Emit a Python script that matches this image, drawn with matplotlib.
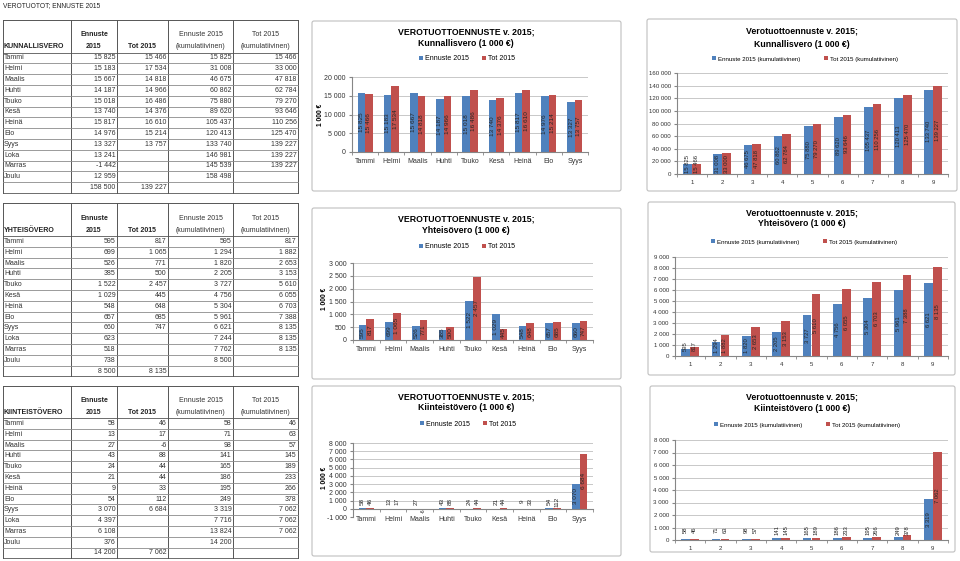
import matplotlib
matplotlib.use("Agg")
import matplotlib.pyplot as plt
from matplotlib.patches import FancyBboxPatch
from matplotlib.ticker import FuncFormatter, FixedLocator

plt.rcParams['font.family'] = ['Liberation Sans', 'DejaVu Sans']

months = ['Tammi', 'Helmi', 'Maalis', 'Huhti', 'Touko', 'Kesä', 'Heinä', 'Elo',
          'Syys', 'Loka', 'Marras', 'Joulu']
kum_labels = ['1', '2', '3', '4', '5', '6', '7', '8', '9']

# kunnallisvero
kunn_ennuste = [15825, 15183, 15667, 14187, 15018, 13740, 15817, 14976, 13327, 13241, -1442, 12959]
kunn_tot = [15466, 17534, 14818, 14966, 16486, 14376, 16610, 15214, 13757]
kunn_ennuste_kum = [15825, 31008, 46675, 60862, 75880, 89620, 105437, 120413, 133740, 146981, 145539, 158498]
kunn_tot_kum = [15466, 33000, 47818, 62784, 79270, 93646, 110256, 125470, 139227, 139227, 139227]
kunn_sum = [158500, 139227]

# yhteisovero
yht_ennuste = [595, 699, 526, 385, 1522, 1029, 548, 657, 660, 623, 518, 738]
yht_tot = [817, 1065, 771, 500, 2457, 445, 648, 685, 747]
yht_ennuste_kum = [595, 1294, 1820, 2205, 3727, 4756, 5304, 5961, 6621, 7244, 7762, 8500]
yht_tot_kum = [817, 1882, 2653, 3153, 5610, 6055, 6703, 7388, 8135, 8135, 8135]
yht_sum = [8500, 8135]

# kiinteistovero
kiint_ennuste = [58, 13, 27, 43, 24, 21, 9, 54, 3070, 4397, 6108, 376]
kiint_tot = [46, 17, -6, 88, 44, 44, 33, 112, 6684]
kiint_ennuste_kum = [58, 71, 98, 141, 165, 186, 195, 249, 3319, 7716, 13824, 14200]
kiint_tot_kum = [46, 63, 57, 145, 189, 233, 266, 378, 7062, 7062, 7062]
kiint_sum = [14200, 7062]

BLUE = '#4F81BD'
RED = '#C0504D'
W, H = 960, 561

fig = plt.figure(figsize=(9.6, 5.61), dpi=100)
bg = fig.add_axes([0, 0, 1, 1])
bg.set_xlim(0, W)
bg.set_ylim(H, 0)
bg.axis('off')


def fmt(v):
    return f"{int(round(v)):,}".replace(",", " ")


bg.text(3, 6, 'VEROTUOTOT; ENNUSTE 2015', fontsize=4.8, va='center', color='#222222')

col_x = [3, 71, 117, 168, 233, 298]
row_h = 10.8


def draw_table(top, hdr_bot, name, e, t, ek, tk, sums):
    bottom = hdr_bot + 13 * row_h
    for x in col_x:
        bg.plot([x, x], [top, bottom], color='#555555', lw=0.7)
    bg.plot([col_x[0], col_x[-1]], [top, top], color='#555555', lw=0.7)
    for i in range(14):
        y = hdr_bot + i * row_h
        bg.plot([col_x[0], col_x[-1]], [y, y], color='#555555' if i in (0, 13) else '#8a8a8a', lw=0.6)
    l1 = hdr_bot - 18
    l2 = hdr_bot - 6
    fs = 5.0
    bg.text(4, l2, name, fontsize=fs, weight='bold', va='center', color='#222222')
    bg.text(94, l1, 'Ennuste', fontsize=fs, weight='bold', ha='center', va='center', color='#222222')
    bg.text(94, l2, '2015', fontsize=fs, weight='bold', ha='center', va='center', color='#222222')
    bg.text(142.5, l2, 'Tot 2015', fontsize=fs, weight='bold', ha='center', va='center', color='#222222')
    bg.text(200.5, l1, 'Ennuste 2015', fontsize=fs, ha='center', va='center', color='#333333')
    bg.text(200.5, l2, '(kumulatiivinen)', fontsize=fs, ha='center', va='center', color='#333333')
    bg.text(265.5, l1, 'Tot 2015', fontsize=fs, ha='center', va='center', color='#333333')
    bg.text(265.5, l2, '(kumulatiivinen)', fontsize=fs, ha='center', va='center', color='#333333')
    for i in range(13):
        yc = hdr_bot + (i + 0.5) * row_h
        if i < 12:
            bg.text(4, yc, months[i], fontsize=fs, va='center', color='#333333')
            cols = [e, t, ek, tk]
        else:
            cols = [[None] * 12 + [sums[0]], [None] * 12 + [sums[1]], [], []]
        for c, arr in enumerate(cols):
            if i < len(arr) and arr[i] is not None:
                bg.text(col_x[c + 2] - 1.5, yc, fmt(arr[i]), fontsize=fs, ha='right',
                        va='center', color='#333333')


draw_table(20, 52.5, 'KUNNALLISVERO', kunn_ennuste, kunn_tot, kunn_ennuste_kum, kunn_tot_kum, kunn_sum)
draw_table(203, 236, 'YHTEISÖVERO', yht_ennuste, yht_tot, yht_ennuste_kum, yht_tot_kum, yht_sum)
draw_table(386, 418, 'KIINTEISTÖVERO', kiint_ennuste, kiint_tot, kiint_ennuste_kum, kiint_tot_kum, kiint_sum)


def chart(box, plot, titles, title_y, tcx, cats, s1, s2, names, ylim, step,
          leg_y, leg_cx, small, ylabel=None, zero_axis=False):
    x0, y0, x1, y1 = box
    bg.add_patch(FancyBboxPatch((x0, y0), x1 - x0, y1 - y0, boxstyle='round,pad=0,rounding_size=2',
                                fc='white', ec='#BFBFBF', lw=0.8))
    tfs = 6.3
    bg.text(tcx, title_y[0], titles[0], fontsize=tfs, weight='bold', ha='center', va='center')
    bg.text(tcx, title_y[1], titles[1], fontsize=tfs, weight='bold', ha='center', va='center')
    if ylabel:
        bg.text(ylabel[0], ylabel[1], '1 000 €', fontsize=4.8, weight='bold', rotation=90,
                ha='center', va='center')
    pl, pt, pr, pb = plot
    ax = fig.add_axes([pl / W, 1 - pb / H, (pr - pl) / W, (pb - pt) / H])
    ax.patch.set_alpha(0)
    n = len(s1)
    xs = list(range(n))
    bw = 0.29
    ax.bar([x - bw / 2 for x in xs], s1, bw, color=BLUE, label=names[0], zorder=2)
    ax.bar([x + bw / 2 for x in xs], s2[:n], bw, color=RED, label=names[1], zorder=2)
    ax.set_xlim(-0.5, n - 0.5)
    ax.set_ylim(*ylim)
    rng = ylim[1] - ylim[0]
    lfs = 4.2 if small else 4.6
    for off, ser in ((-bw / 2, s1), (bw / 2, s2[:n])):
        for x, v in zip(xs, ser):
            if v >= 0:
                yy = max(v / 2, 0.1 * rng)
                va = 'center'
            else:
                # negative value: label hangs just under the zero line
                yy = 0
                va = 'top'
            ax.text(x + off, yy, fmt(v), rotation=90, ha='center', va=va,
                    fontsize=lfs * (0.8 if v < 0 else 1), color='#262626', zorder=3)
    ticks = []
    v = ylim[0]
    while v <= ylim[1] + 1:
        ticks.append(v)
        v += step
    ax.set_yticks(ticks)
    ax.yaxis.set_major_formatter(FuncFormatter(lambda v, p: fmt(v)))
    ax.yaxis.grid(True, color='#BFBFBF', lw=0.6)
    ax.set_axisbelow(True)
    ax.set_xticks(xs)
    ax.set_xticklabels(cats)
    ax.xaxis.set_minor_locator(FixedLocator([i - 0.5 for i in range(n + 1)]))
    tk = 4.4 if small else 5.0
    ax.tick_params(axis='x', which='major', length=0, labelsize=tk, pad=4, colors='#333333')
    ax.tick_params(axis='x', which='minor', length=2.5, color='#868686')
    ax.tick_params(axis='y', length=2.5, labelsize=tk, colors='#333333', pad=2)
    ax.tick_params(axis='y', color='#868686')
    for s in ('top', 'right'):
        ax.spines[s].set_visible(False)
    for s in ('left', 'bottom'):
        ax.spines[s].set_color('#868686')
        ax.spines[s].set_linewidth(0.8)
    if zero_axis:
        ax.spines['bottom'].set_position(('data', 0))
        ax.tick_params(axis='x', which='major', pad=5.5)
    ax.legend(loc='center', bbox_to_anchor=(leg_cx / W, 1 - leg_y / H), bbox_transform=fig.transFigure,
              ncol=2, frameon=False, fontsize=tk, handlelength=0.6, handleheight=0.6,
              handletextpad=0.3, columnspacing=4.0 if small else 1.8, borderaxespad=0)
    return ax


n9 = 9
chart((312, 21, 621, 191), (352, 77, 588, 152),
      ('VEROTUOTTOENNUSTE v. 2015;', 'Kunnallisvero (1 000 €)'), (32, 43), 466,
      months[:n9], kunn_ennuste[:n9], kunn_tot, ('Ennuste 2015', 'Tot 2015'),
      (0, 20000), 5000, 59, 467, False, ylabel=(320, 115))
chart((647, 19, 957, 191), (677, 73, 948, 174),
      ('Verotuottoennuste v. 2015;', 'Kunnallisvero (1 000 €)'), (31, 44), 802,
      kum_labels, kunn_ennuste_kum[:n9], kunn_tot_kum,
      ('Ennuste 2015 (kumulatiivinen)', 'Tot 2015 (kumulatiivinen)'),
      (0, 160000), 20000, 59, 805, True)
chart((312, 208, 621, 379), (353, 263, 593, 340),
      ('VEROTUOTTOENNUSTE v. 2015;', 'Yhteisövero (1 000 €)'), (219, 230), 466,
      months[:n9], yht_ennuste[:n9], yht_tot, ('Ennuste 2015', 'Tot 2015'),
      (0, 3000), 500, 247, 467, False, ylabel=(325, 299))
chart((648, 202, 955, 375), (675, 257, 948, 356),
      ('Verotuottoennuste v. 2015;', 'Yhteisövero (1 000 €)'), (213, 223), 802,
      kum_labels, yht_ennuste_kum[:n9], yht_tot_kum,
      ('Ennuste 2015 (kumulatiivinen)', 'Tot 2015 (kumulatiivinen)'),
      (0, 9000), 1000, 242, 804, True)
chart((312, 386, 621, 556), (353, 443, 593, 517),
      ('VEROTUOTTOENNUSTE v. 2015;', 'Kiinteistövero (1 000 €)'), (397, 407), 466,
      months[:n9], kiint_ennuste[:n9], kiint_tot, ('Ennuste 2015', 'Tot 2015'),
      (-1000, 8000), 1000, 424, 468, False, ylabel=(325, 478), zero_axis=True)
chart((650, 386, 955, 552), (675, 440, 948, 540),
      ('Verotuottoennuste v. 2015;', 'Kiinteistövero (1 000 €)'), (397, 408), 802,
      kum_labels, kiint_ennuste_kum[:n9], kiint_tot_kum,
      ('Ennuste 2015 (kumulatiivinen)', 'Tot 2015 (kumulatiivinen)'),
      (0, 8000), 1000, 425, 807, True)

fig.savefig('out.png', dpi=100)
